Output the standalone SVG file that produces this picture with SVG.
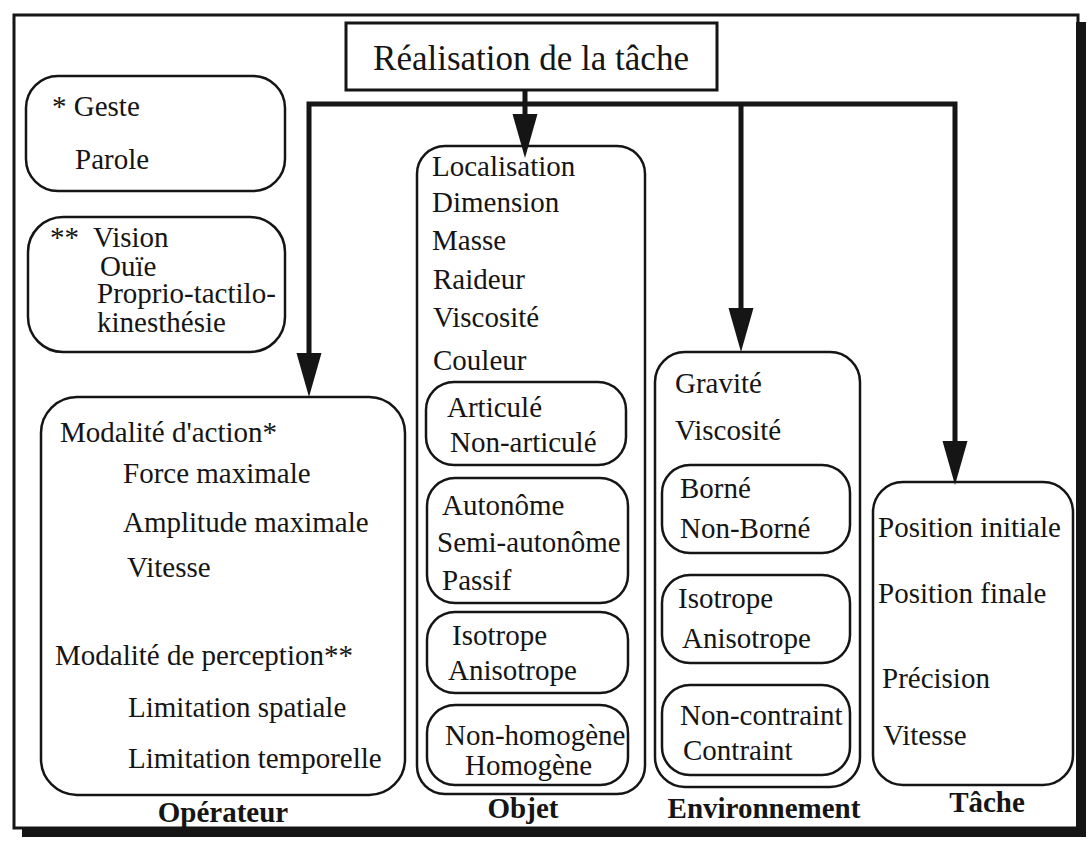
<svg xmlns="http://www.w3.org/2000/svg" width="1089" height="845" viewBox="0 0 1089 845">
<style>
text{font-family:"Liberation Serif","Times New Roman",serif;font-size:29px;fill:#151515}
.t{font-size:35px}
.b{font-weight:bold;text-anchor:middle}
.box{fill:none;stroke:#151515;stroke-width:2.5}
.conn{fill:none;stroke:#151515;stroke-width:5;stroke-linejoin:miter}
</style>
<defs>
<marker id="ah" markerUnits="userSpaceOnUse" markerWidth="46" markerHeight="26" refX="0" refY="12.5" orient="auto-start-reverse" viewBox="0 0 46 26">
<path d="M0,0 L44,12.5 L0,25 Z" fill="#151515"/>
</marker>
</defs>
<rect width="1089" height="845" fill="#ffffff"/>
<g id="frame">
<rect x="14" y="15" width="1064" height="813" fill="none" stroke="#151515" stroke-width="3"/>
<rect x="1076" y="22" width="10" height="815" fill="#151515"/>
<rect x="22" y="827" width="1064" height="10" fill="#151515"/>
</g>
<g id="connectors">
<path class="conn" d="M525,90 V114" marker-end="url(#ah)"/>
<path class="conn" d="M309,353 V104 H955 V441" marker-start="url(#ah)" marker-end="url(#ah)"/>
<path class="conn" d="M741,104 V308" marker-end="url(#ah)"/>
</g>
<g id="title">
<rect x="346" y="23" width="371" height="67" fill="#fff" stroke="#151515" stroke-width="3"/>
<text class="t" x="531" y="70" text-anchor="middle">Réalisation de la tâche</text>
</g>
<g id="geste">
<rect class="box" x="26" y="76" width="259" height="115" rx="32"/>
<text x="52" y="116">* Geste</text>
<text x="75" y="169">Parole</text>
</g>
<g id="vision">
<rect class="box" x="28" y="217" width="257" height="135" rx="35"/>
<text x="50" y="247">**</text>
<text x="93" y="247">Vision</text>
<text x="100" y="276">Ouïe</text>
<text x="97" y="303">Proprio-tactilo-</text>
<text x="97" y="332">kinesthésie</text>
</g>
<g id="operateur">
<rect class="box" x="41" y="397" width="364" height="398" rx="36"/>
<text x="60" y="442">Modalité d'action*</text>
<text x="123" y="483">Force maximale</text>
<text x="123" y="532">Amplitude maximale</text>
<text x="127" y="577">Vitesse</text>
<text x="55" y="665">Modalité de perception**</text>
<text x="128" y="717">Limitation spatiale</text>
<text x="128" y="768">Limitation temporelle</text>
<text class="b" x="223" y="822">Opérateur</text>
</g>
<g id="objet">
<rect class="box" x="417" y="146" width="228" height="648" rx="28"/>
<text x="432" y="176">Localisation</text>
<text x="432" y="212">Dimension</text>
<text x="432" y="250">Masse</text>
<text x="433" y="289">Raideur</text>
<text x="433" y="327">Viscosité</text>
<text x="433" y="370">Couleur</text>
<rect class="box" x="426" y="382" width="200" height="83" rx="28"/>
<text x="447" y="417">Articulé</text>
<text x="450" y="452">Non-articulé</text>
<rect class="box" x="427" y="478" width="201" height="125" rx="28"/>
<text x="442" y="515">Autonôme</text>
<text x="437" y="552">Semi-autonôme</text>
<text x="442" y="590">Passif</text>
<rect class="box" x="427" y="612" width="201" height="81" rx="28"/>
<text x="452" y="645">Isotrope</text>
<text x="448" y="680">Anisotrope</text>
<rect class="box" x="427" y="705" width="201" height="80" rx="28"/>
<text x="445" y="745">Non-homogène</text>
<text x="465" y="775">Homogène</text>
<text class="b" x="523" y="818">Objet</text>
</g>
<g id="environnement">
<rect class="box" x="655" y="352" width="205" height="435" rx="30"/>
<text x="675" y="393">Gravité</text>
<text x="675" y="440">Viscosité</text>
<rect class="box" x="662" y="465" width="188" height="88" rx="28"/>
<text x="680" y="498">Borné</text>
<text x="680" y="538">Non-Borné</text>
<rect class="box" x="662" y="575" width="188" height="88" rx="28"/>
<text x="678" y="608">Isotrope</text>
<text x="682" y="648">Anisotrope</text>
<rect class="box" x="662" y="685" width="188" height="90" rx="28"/>
<text x="680" y="725">Non-contraint</text>
<text x="683" y="760">Contraint</text>
<text class="b" x="764" y="818">Environnement</text>
</g>
<g id="tache">
<rect class="box" x="873" y="482" width="200" height="303" rx="30"/>
<text x="878" y="537">Position initiale</text>
<text x="878" y="603">Position finale</text>
<text x="882" y="688">Précision</text>
<text x="883" y="745">Vitesse</text>
<text class="b" x="987" y="812">Tâche</text>
</g>
</svg>
